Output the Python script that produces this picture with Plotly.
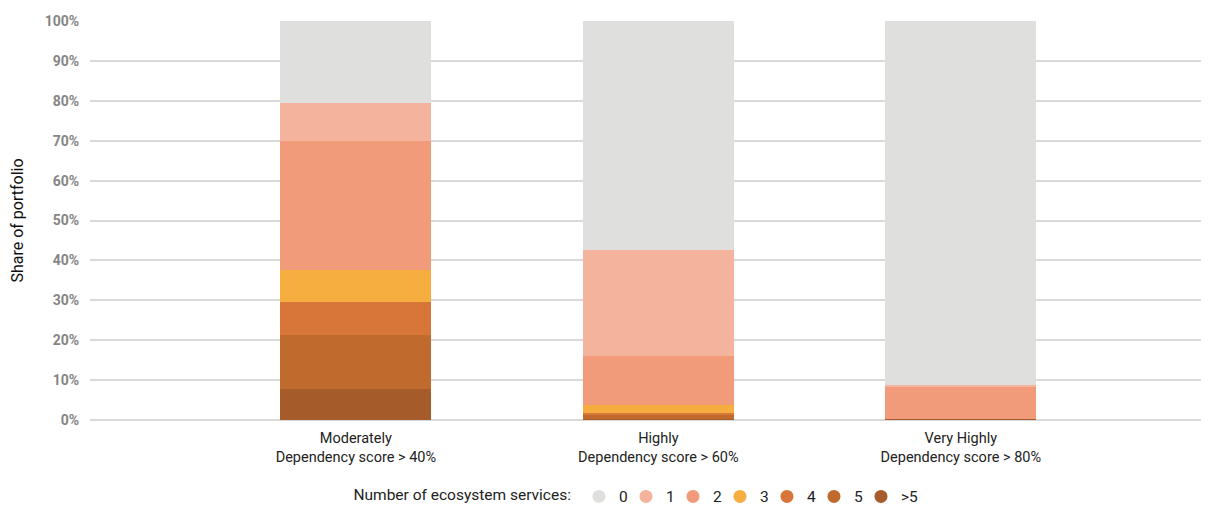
import plotly.graph_objects as go

categories = ["Moderately<br>Dependency score > 40%",
              "Highly<br>Dependency score > 60%",
              "Very Highly<br>Dependency score > 80%"]

# share of portfolio (%) by number of ecosystem services
series_names = ["0", "1", "2", "3", "4", "5", ">5"]
s0 = [20.5, 57.3, 91.2]
s1 = [9.6, 26.7, 0.5]
s2 = [32.3, 12.2, 8.0]
s3 = [8.0, 2.0, 0.0]
s4 = [8.3, 0.5, 0.0]
s5 = [13.5, 1.0, 0.0]
s6 = [7.8, 0.3, 0.3]

colors = ["#dfdfdd", "#f4b39d", "#f29b7b", "#f7ae41", "#d8763a", "#c06a2e", "#a55b2a"]
values = [s0, s1, s2, s3, s4, s5, s6]

tick_vals = [0, 10, 20, 30, 40, 50, 60, 70, 80, 90, 100]
tick_text = ["0%", "10%", "20%", "30%", "40%", "50%", "60%", "70%", "80%", "90%", "100%"]

FONT = "Roboto, Liberation Sans, sans-serif"

fig = go.Figure()

# stacked bars: bottom (>5) first
for name, vals, col in reversed(list(zip(series_names, values, colors))):
    fig.add_trace(go.Bar(x=categories, y=vals, name=name, marker=dict(color=col, line=dict(width=0)),
                         showlegend=False, hovertemplate="%{y}%<extra>" + name + "</extra>"))

# legend entries with circle markers
for name, col in zip(series_names, colors):
    fig.add_trace(go.Scatter(x=[None], y=[None], mode="markers", name=name,
                             marker=dict(symbol="circle", size=13, color=col), showlegend=True))
# blank spacer entry so the last label is not clipped
fig.add_trace(go.Scatter(x=[None], y=[None], mode="markers", name=" ",
                         marker=dict(symbol="circle", size=13, color="rgba(0,0,0,0)"),
                         showlegend=True, hoverinfo="skip"))

fig.update_layout(
    width=1209, height=506,
    margin=dict(l=82, r=0, t=13, b=94, autoexpand=False),
    paper_bgcolor="white", plot_bgcolor="white",
    barmode="stack", bargap=0.5,
    font=dict(family=FONT, size=15, color="#222222"),
    showlegend=True,
    legend=dict(orientation="h", x=0.232, xanchor="left", y=-0.15, yanchor="top",
                title=dict(text="Number of ecosystem services:", side="left",
                           font=dict(family=FONT, size=15.5, color="#222222")),
                font=dict(family=FONT, size=15.5, color="#222222"),
                itemwidth=30, entrywidth=2, entrywidthmode="pixels", traceorder="normal",
                itemclick=False, itemdoubleclick=False),
    xaxis=dict(type="category", range=[-0.879, 2.847], showgrid=False, showline=False,
               automargin=False, ticks="outside", ticklen=5, tickcolor="rgba(0,0,0,0)",
               tickfont=dict(family=FONT, size=14.5, color="#222222")),
    yaxis=dict(range=[0, 100], tickvals=tick_vals, ticktext=tick_text, automargin=False,
               showgrid=True, gridcolor="#d9d9d9", gridwidth=1.5,
               zeroline=True, zerolinecolor="#d9d9d9", zerolinewidth=1.5,
               ticks="outside", ticklen=7, tickcolor="rgba(0,0,0,0)",
               tickfont=dict(family=FONT, size=14, color="#858585", weight="bold"),
               title=dict(text="Share of portfolio", standoff=17,
                          font=dict(family=FONT, size=16, color="#111111"))),
)

fig.write_html("out.html")
